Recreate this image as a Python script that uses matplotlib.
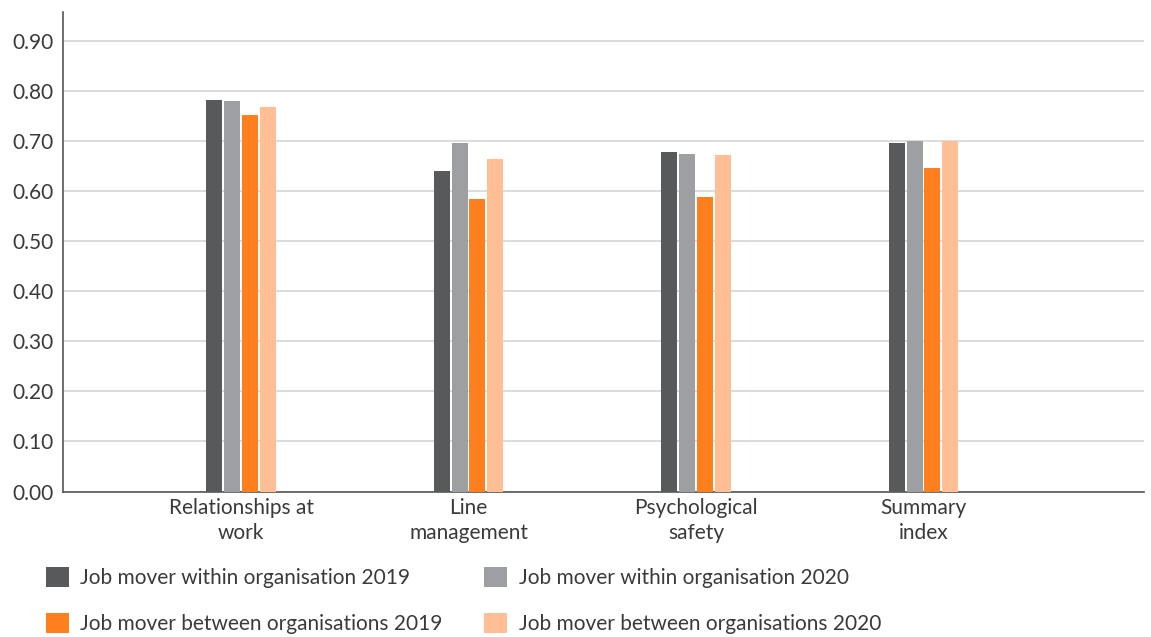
import matplotlib
matplotlib.use('Agg')
import matplotlib.pyplot as plt
import numpy as np
from matplotlib.patches import Patch

categories = ['Relationships at\nwork', 'Line\nmanagement', 'Psychological\nsafety', 'Summary\nindex']
series_names = ['Job mover within organisation 2019', 'Job mover within organisation 2020',
                'Job mover between organisations 2019', 'Job mover between organisations 2020']
within_2019 = [0.783, 0.641, 0.679, 0.697]
within_2020 = [0.781, 0.697, 0.674, 0.700]
between_2019 = [0.753, 0.584, 0.588, 0.646]
between_2020 = [0.769, 0.664, 0.672, 0.700]
yticks = [0.0, 0.1, 0.2, 0.3, 0.4, 0.5, 0.6, 0.7, 0.8, 0.9]

colors = ['#58595b', '#9d9fa2', '#ff7f1e', '#ffbe93']
text_col = '#3a3a3a'

plt.rcParams['font.family'] = ['Lato', 'DejaVu Sans']

fig = plt.figure(figsize=(11.51, 6.37), dpi=100)
ax = fig.add_axes([63 / 1151, 1 - 491.5 / 637, (1144 - 63) / 1151, (491.5 - 12) / 637])

x = np.arange(len(categories))
width = 0.0705
step = 0.078
all_series = [within_2019, within_2020, between_2019, between_2020]
for i, vals in enumerate(all_series):
    ax.bar(x + (i - 1.5) * step, vals, width=width, color=colors[i], zorder=3)

ax.set_xlim(-0.783, 3.97)
ax.set_ylim(0, 0.958)
ax.set_yticks(yticks)
ax.set_yticklabels(['%.2f' % v for v in yticks])
ax.set_xticks(x)
ax.set_xticklabels(categories, linespacing=1.3)
ax.tick_params(axis='both', length=0, labelsize=15, colors=text_col)
ax.tick_params(axis='y', pad=7)
ax.tick_params(axis='x', pad=5)
ax.grid(axis='y', color='#d6d6d6', linewidth=1.2, zorder=0)

for s in ['top', 'right']:
    ax.spines[s].set_visible(False)
ax.spines['left'].set_color('#555555')
ax.spines['bottom'].set_color('#555555')
ax.spines['left'].set_linewidth(1.2)
ax.spines['bottom'].set_linewidth(1.2)

handles = [Patch(facecolor=c, edgecolor='none') for c in colors]
# order so that columns read: within 2019 / between 2019 | within 2020 / between 2020
order = [0, 2, 1, 3]
leg = fig.legend([handles[i] for i in order], [series_names[i] for i in order],
                 loc='upper left', bbox_to_anchor=(46 / 1151, 1 - 567 / 637),
                 ncol=2, frameon=False, fontsize=15, borderpad=0, borderaxespad=0,
                 handlelength=1.1, handleheight=1.1, handletextpad=0.55,
                 columnspacing=2.0, labelspacing=1.2)
for t in leg.get_texts():
    t.set_color(text_col)

fig.savefig('out.png', dpi=100)
